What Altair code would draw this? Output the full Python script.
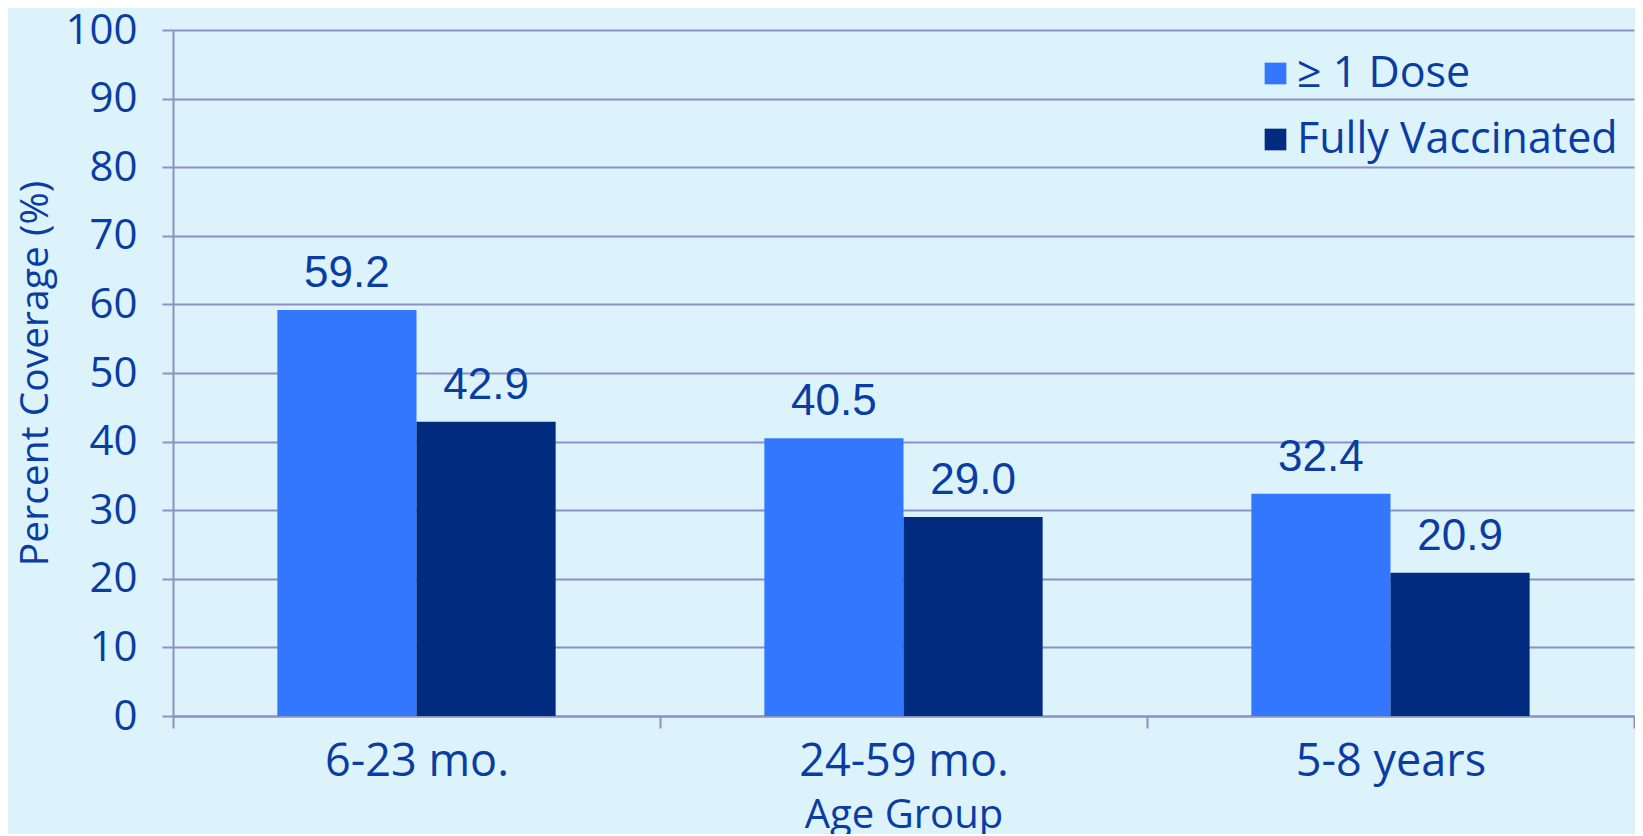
import altair as alt
import pandas as pd

groups = ["6-23 mo.", "24-59 mo.", "5-8 years"]
series = ["≥ 1 Dose", "Fully Vaccinated"]
dose1 = [59.2, 40.5, 32.4]
full = [42.9, 29.0, 20.9]
y_ticks = [0, 10, 20, 30, 40, 50, 60, 70, 80, 90, 100]

rows = []
for g, a, b in zip(groups, dose1, full):
    rows.append({"group": g, "series": series[0], "value": a})
    rows.append({"group": g, "series": series[1], "value": b})
df = pd.DataFrame(rows)

TEXT = "#0a3da3"
GRID = "#8c90c4"
MYRIAD = "Open Sans"

W = 1461
H = 686

x_enc = alt.X(
    "group:N",
    sort=groups,
    scale=alt.Scale(paddingInner=0, paddingOuter=0),
    axis=alt.Axis(
        title="Age Group",
        titleFont=MYRIAD,
        titleFontSize=40,
        titleFontWeight="normal",
        titleColor=TEXT,
        titleX=W / 2,
        titleY=111,
        titleBaseline="alphabetic",
        labelFont=MYRIAD,
        labelFontSize=45,
        labelColor=TEXT,
        labelAngle=0,
        labelBaseline="alphabetic",
        labelPadding=47,
        labelLimit=600,
        tickBand="extent",
        tickSize=12,
        tickColor=GRID,
        tickWidth=2,
        domainColor=GRID,
        domainWidth=2,
        grid=False,
    ),
)
xoff = alt.XOffset("series:N", sort=series, scale=alt.Scale(paddingInner=0, paddingOuter=0.75))
y_enc = alt.Y(
    "value:Q",
    scale=alt.Scale(domain=[0, 100], nice=False),
    axis=alt.Axis(
        values=y_ticks,
        title="Percent Coverage (%)",
        titleFont=MYRIAD,
        titleFontSize=39,
        titleFontWeight="normal",
        titleColor=TEXT,
        titleX=-138,
        titleY=H / 2,
        titleAngle=-90,
        titleAlign="center",
        titleBaseline="middle",
        labelFont=MYRIAD,
        labelFontSize=42,
        labelColor=TEXT,
        labelPadding=25,
        labelBaseline="middle",
        tickSize=11,
        tickColor=GRID,
        tickWidth=2,
        domainColor=GRID,
        domainWidth=2,
        grid=True,
        gridColor=GRID,
        gridWidth=2,
        gridOpacity=1,
    ),
)

bars = alt.Chart(df).mark_bar(stroke=None).encode(
    x=x_enc,
    xOffset=xoff,
    y=y_enc,
    color=alt.Color(
        "series:N",
        sort=series,
        scale=alt.Scale(domain=series, range=["#3377ff", "#002b7f"]),
        legend=alt.Legend(
            title=None,
            orient="none",
            legendX=1081,
            legendY=22,
            symbolType="square",
            symbolSize=470,
            symbolStrokeWidth=0,
            labelFont=MYRIAD,
            labelFontSize=43,
            labelColor=TEXT,
            labelOffset=0,
            rowPadding=22,
            labelLimit=600,
        ),
    ),
)

labels = alt.Chart(df).mark_text(
    font="Liberation Sans",
    fontSize=44,
    color=TEXT,
    baseline="alphabetic",
    dy=-23,
).encode(
    x=alt.X("group:N", sort=groups),
    xOffset=alt.XOffset("series:N", sort=series),
    y=alt.Y("value:Q"),
    text=alt.Text("value:Q", format=".1f"),
)

chart = (
    alt.layer(bars, labels)
    .properties(
        width=W,
        height=H,
        autosize=alt.AutoSizeParams(type="none"),
        padding={"left": 165, "top": 22, "right": 1, "bottom": 118},
        background="#ddf3fb",
    )
    .configure_view(stroke=None)
)

chart.save("out.html", embed_options={"renderer": "svg", "actions": False})
